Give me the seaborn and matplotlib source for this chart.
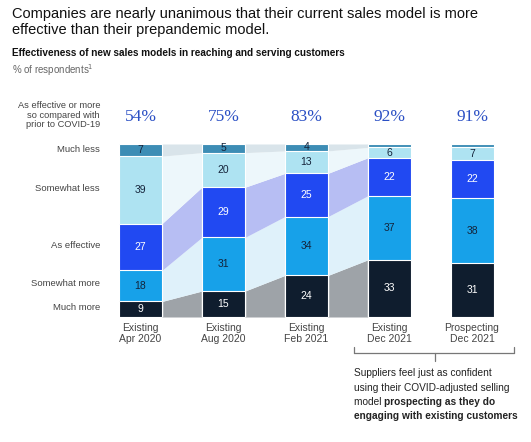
import matplotlib
matplotlib.use("Agg")
import matplotlib.pyplot as plt
import numpy as np
import pandas as pd
import seaborn as sns

# --- Data ---
periods = ["Existing\nApr 2020", "Existing\nAug 2020", "Existing\nFeb 2021",
           "Existing\nDec 2021", "Prospecting\nDec 2021"]
levels = ["Much more", "Somewhat more", "As effective", "Somewhat less", "Much less"]
much_more = [9, 15, 24, 33, 31]
somewhat_more = [18, 31, 34, 37, 38]
as_effective = [27, 29, 25, 22, 22]
somewhat_less = [39, 20, 13, 6, 7]
much_less = [7, 5, 4, 2, 2]
headline = ["54%", "75%", "83%", "92%", "91%"]

layers = [much_more, somewhat_more, as_effective, somewhat_less, much_less]
bar_colors = ["#0f1d2e", "#17a1e9", "#2149f2", "#aee3f2", "#3d8db5"]
band_colors = ["#9ea3a8", "#dff1fa", "#b7bef3", "#edf7fb", "#d9e4ea"]
label_colors = ["white", "#14233a", "white", "#14233a", "#14233a"]

sns.set_theme(style="white")
plt.rcParams["font.family"] = ["Liberation Sans", "DejaVu Sans"]

W, H = 531, 442
fig = plt.figure(figsize=(W / 100, H / 100), dpi=100)


def fx(x):
    return x / W


def fy(y):
    return 1 - y / H


# axes placed so that y 0..100 maps to pixel rows 317..144
ax = fig.add_axes([fx(90.7), fy(317), (521.8 - 90.7) / W, 173 / H])

cum = np.cumsum(np.array(layers), axis=0)
df = pd.DataFrame({"period": periods})
bar_w = 0.52

# connecting bands between the existing-customer bars
xs = np.arange(len(periods))
for k in range(len(levels)):
    lower = cum[k] - np.array(layers[k])
    upper = cum[k]
    for i in range(3):
        x0, x1 = xs[i] + bar_w / 2, xs[i + 1] - bar_w / 2
        ax.fill_between([x0, x1], [lower[i], lower[i + 1]], [upper[i], upper[i + 1]],
                        color=band_colors[k], linewidth=0, zorder=1)

# stacked bars, drawn as overlapping cumulative totals
for k in reversed(range(len(levels))):
    df["h"] = cum[k]
    sns.barplot(data=df, x="period", y="h", color=bar_colors[k], saturation=1,
                width=bar_w, errorbar=None, edgecolor="white", linewidth=0.8,
                ax=ax, zorder=2)

for k in range(len(levels)):
    for i, v in enumerate(layers[k]):
        if v < 3:
            continue
        ax.text(xs[i], cum[k][i] - v / 2, str(v), ha="center", va="center",
                fontsize=7.5, color=label_colors[k], zorder=3)

ax.set_xlim(-0.6, 4.6)
ax.set_ylim(0, 100)
ax.axis("off")

# x labels under bars and headline shares above them
for i, p in enumerate(periods):
    ax.text(xs[i], -3.5, p, ha="center", va="top", fontsize=7.5, color="#444444",
            linespacing=1.1, clip_on=False)
    ax.text(xs[i], (317 - 117) / 173, headline[i], ha="center", va="center",
            fontsize=12.5, color="#2a4fc4", family=["Liberation Serif", "DejaVu Serif"],
            transform=ax.get_xaxis_transform(), clip_on=False)

# titles
fig.text(fx(12), fy(7), "Companies are nearly unanimous that their current sales model is more\n"
         "effective than their prepandemic model.", ha="left", va="top", fontsize=10.5,
         color="#111111", linespacing=1.2)
fig.text(fx(12), fy(53), "Effectiveness of new sales models in reaching and serving customers",
         ha="left", va="center", fontsize=7.2, color="#111111", weight="bold")
fig.text(fx(12), fy(70), "% of respondents$^1$", ha="left", va="center", fontsize=7,
         color="#666666")

# left header and row labels
fig.text(fx(100), fy(115), "As effective or more\nso compared with\nprior to COVID-19",
         ha="right", va="center", fontsize=6.7, color="#444444", linespacing=1.1)
row_y = [308, 283, 246, 188, 150]
for lab, y in zip(levels, row_y):
    fig.text(fx(100), fy(y), lab, ha="right", va="center", fontsize=6.8, color="#444444")

# bracket
line_kw = dict(color="#777777", linewidth=0.9, transform=fig.transFigure)
fig.add_artist(plt.Line2D([fx(354), fx(514)], [fy(353), fy(353)], **line_kw))
fig.add_artist(plt.Line2D([fx(354), fx(354)], [fy(347), fy(353)], **line_kw))
fig.add_artist(plt.Line2D([fx(514), fx(514)], [fy(347), fy(353)], **line_kw))
fig.add_artist(plt.Line2D([fx(435), fx(435)], [fy(353), fy(361)], **line_kw))

# annotation
note_kw = dict(ha="left", va="center", fontsize=7.3, color="#222222")
fig.text(fx(354), fy(373), "Suppliers feel just as confident", **note_kw)
fig.text(fx(354), fy(388), "using their COVID-adjusted selling", **note_kw)
t3 = fig.text(fx(354), fy(402), "model ", **note_kw)
fig.canvas.draw()
bb = t3.get_window_extent()
fig.text(bb.x1 / fig.bbox.width, fy(402), "prospecting as they do", weight="bold", **note_kw)
fig.text(fx(354), fy(416), "engaging with existing customers", weight="bold", **note_kw)

fig.savefig("out.png", dpi=100)
